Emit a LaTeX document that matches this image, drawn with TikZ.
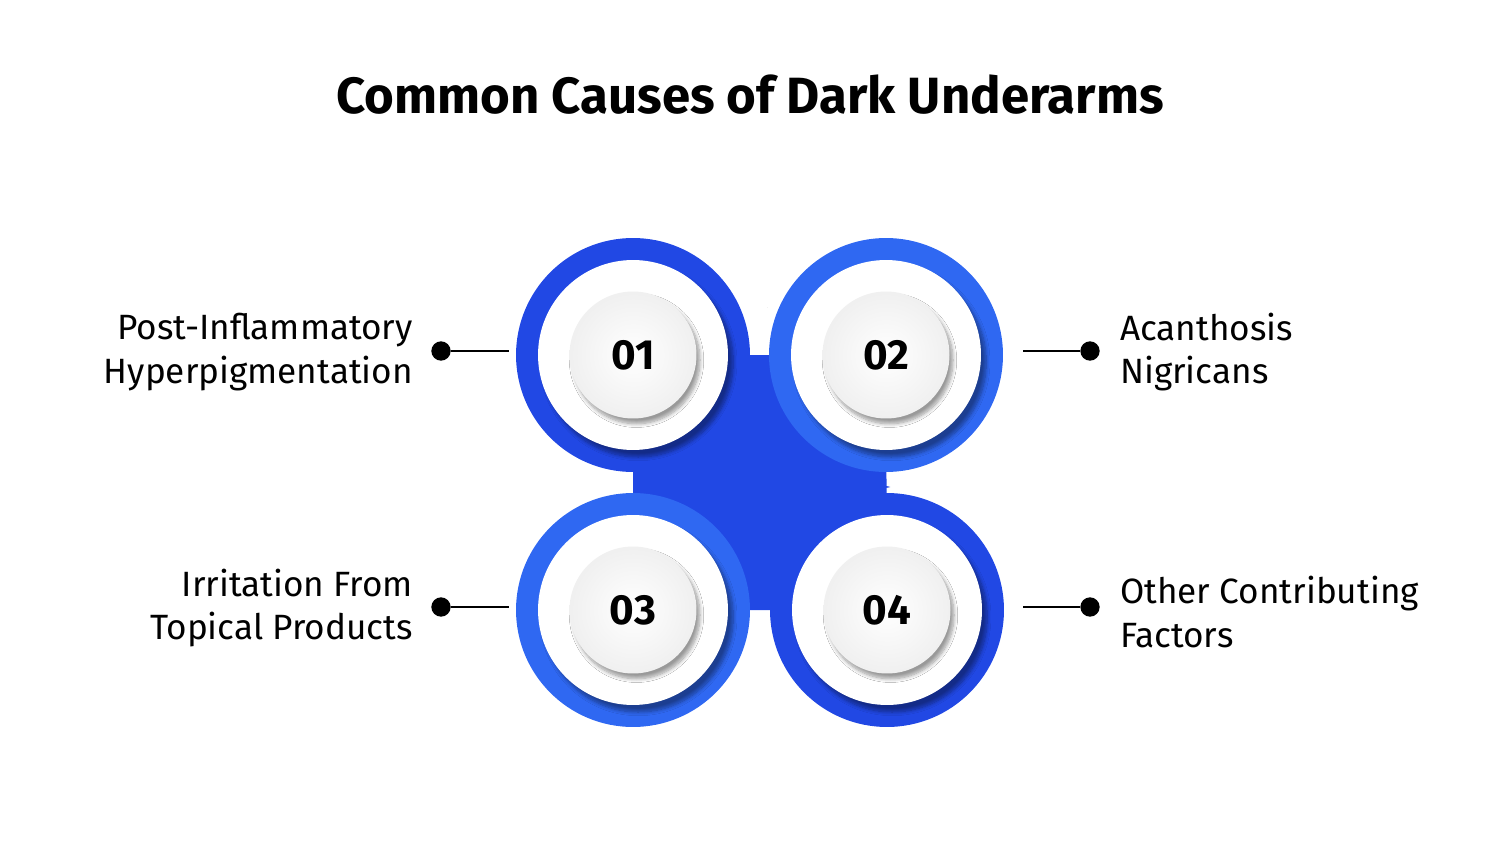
\documentclass[tikz,border=0pt]{standalone}
\usepackage{fontspec}
\setmainfont{Fira Sans}
\usetikzlibrary{shadows,shadows.blur}
\definecolor{bA}{HTML}{2148E4}
\definecolor{bB}{HTML}{2F68F2}
\definecolor{bC}{HTML}{2451E8}
\tikzset{
 lbl/.style={font=\fontsize{20}{25}\selectfont, text=black},
 num/.style={font=\fontsize{24}{28}\selectfont\bfseries, text=black},
 dotc/.style={circle, fill=black, inner sep=0pt, minimum size=11pt},
 conn/.style={line width=1.4pt, draw=black},
 ring/.style={circle, minimum size=9.5cm*0.0+4.7cm, draw=none},
 white/.style={circle, fill=white, minimum size=3.8cm, blur shadow={shadow xshift=3pt,shadow yshift=-4pt,shadow blur steps=8}},
 inner/.style={circle, inner color=white, outer color=gray!12, minimum size=2.54cm, blur shadow={shadow xshift=2pt,shadow yshift=-3pt,shadow blur steps=8}},
}
\begin{document}
\begin{tikzpicture}[x=0.02cm,y=-0.02cm]
\useasboundingbox (0,0) rectangle (1500,844);
\node[font=\fontsize{29}{34}\selectfont\bfseries] (title) at (750,95) {Common Causes of Dark Underarms};
% central blob
\fill[bA] (762,372) .. controls (790,465) .. (890,487) .. controls (790,505) .. (762,595) .. controls (735,505) .. (636,490) .. controls (735,465) .. (762,372) -- cycle;
\fill[bA] (633,355) -- (886,355) -- (887,610) -- (633,610) -- cycle;
\fill[white] (762,300) circle (0);
\node[circle, fill=bA, minimum size=4.68cm] (r1) at (633,355) {};
\node[circle, fill=bB, minimum size=4.68cm] (r2) at (886,355) {};
\node[circle, fill=bB, minimum size=4.68cm] (r3) at (633,610) {};
\node[circle, fill=bA, minimum size=4.68cm] (r4) at (887,610) {};
\fill[bA] (762,372) .. controls (790,465) .. (890,487) .. controls (790,505) .. (762,595) .. controls (735,505) .. (636,490) .. controls (735,465) .. (762,372) -- cycle;
\foreach \n/\x/\y in {1/633/355,2/886/355,3/633/610,4/887/610}{
 \node[white] (w\n) at (\x,\y) {};
 \node[inner] (c\n) at (\x,\y) {};
}
\node[num] at (c1) {01};
\node[num] at (c2) {02};
\node[num] at (c3) {03};
\node[num] at (c4) {04};
% connectors
\node[dotc] (d1) at (441,351) {};
\node[dotc] (d2) at (1090,351) {};
\node[dotc] (d3) at (441,607) {};
\node[dotc] (d4) at (1090,607) {};
\coordinate (e1) at (509,351);
\coordinate (e2) at (1023,351);
\coordinate (e3) at (509,607);
\coordinate (e4) at (1023,607);
\draw[conn] (d1) -- (e1);
\draw[conn] (d2) -- (e2);
\draw[conn] (d3) -- (e3);
\draw[conn] (d4) -- (e4);
\node[lbl, anchor=east, align=right] (t1) at (419,352) {Post-Inflammatory\\Hyperpigmentation};
\node[lbl, anchor=east, align=right] (t3) at (419,608) {Irritation From\\Topical Products};
\node[lbl, anchor=west, align=left] (t2) at (1114,352) {Acanthosis\\Nigricans};
\node[lbl, anchor=west, align=left] (t4) at (1114,612) {Other Contributing\\Factors};
\end{tikzpicture}
\end{document}
